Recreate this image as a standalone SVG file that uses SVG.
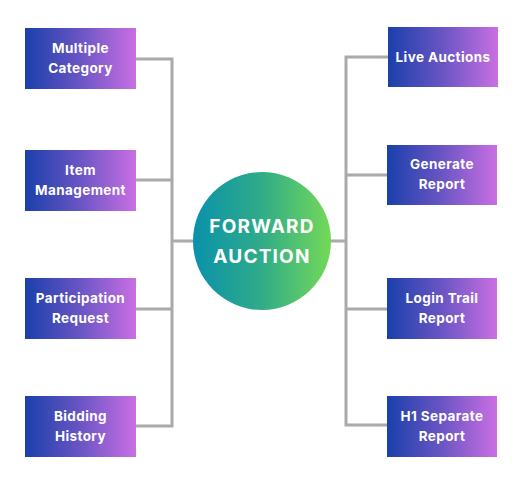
<svg xmlns="http://www.w3.org/2000/svg" width="521" height="479" viewBox="0 0 521 479">
<defs>
<linearGradient id="gBox" x1="0" y1="0" x2="1" y2="0">
<stop offset="0" stop-color="#1a40ab"/>
<stop offset="0.5" stop-color="#6a55c4"/>
<stop offset="1" stop-color="#c96fe3"/>
</linearGradient>
<linearGradient id="gCirc" x1="0" y1="0" x2="1" y2="0">
<stop offset="0" stop-color="#0a91ab"/>
<stop offset="0.5" stop-color="#30ac88"/>
<stop offset="1" stop-color="#74d957"/>
</linearGradient>
</defs>
<style>
.box{fill:url(#gBox);}
.t{font-family:Inter,"Liberation Sans",sans-serif;font-weight:700;font-size:13.5px;fill:#fff;text-anchor:middle;letter-spacing:0.4px;}
.c{font-family:Inter,"Liberation Sans",sans-serif;font-weight:700;font-size:19px;fill:#fff;text-anchor:middle;letter-spacing:1.2px;}
.ln{stroke:#aaaaaa;stroke-width:3;fill:none;}
</style>
<rect width="521" height="479" fill="#ffffff"/>
<g id="connectors">
<path class="ln" d="M136 59H172M136 180H172M136 309H172M136 426H172M172 57.5V427.5M172 241H195"/>
<path class="ln" d="M388 57H346M387 175H346M387 309H346M387 425H346M346 55.5V426.5M346 241H329"/>
</g>
<g id="center">
<circle cx="262" cy="241" r="69" fill="url(#gCirc)"/>
<text class="c" x="262" y="233">FORWARD</text>
<text class="c" x="262" y="263">AUCTION</text>
</g>
<g id="n-multiple-category">
<rect class="box" x="25" y="28" width="111" height="61"/>
<text class="t" x="80.5" y="53">Multiple</text>
<text class="t" x="80.5" y="73">Category</text>
</g>
<g id="n-item-management">
<rect class="box" x="25" y="150" width="111" height="61"/>
<text class="t" x="80.5" y="175">Item</text>
<text class="t" x="80.5" y="195">Management</text>
</g>
<g id="n-participation-request">
<rect class="box" x="25" y="278" width="111" height="61"/>
<text class="t" x="80.5" y="303">Participation</text>
<text class="t" x="80.5" y="323">Request</text>
</g>
<g id="n-bidding-history">
<rect class="box" x="25" y="396" width="111" height="61"/>
<text class="t" x="80.5" y="421">Bidding</text>
<text class="t" x="80.5" y="441">History</text>
</g>
<g id="n-live-auctions">
<rect class="box" x="388" y="27" width="110" height="60"/>
<text class="t" x="443" y="61.5">Live Auctions</text>
</g>
<g id="n-generate-report">
<rect class="box" x="387" y="145" width="110" height="60"/>
<text class="t" x="442" y="169">Generate</text>
<text class="t" x="442" y="189">Report</text>
</g>
<g id="n-login-trail-report">
<rect class="box" x="387" y="278" width="110" height="61"/>
<text class="t" x="442" y="303">Login Trail</text>
<text class="t" x="442" y="323">Report</text>
</g>
<g id="n-h1-separate-report">
<rect class="box" x="387" y="396" width="110" height="61"/>
<text class="t" x="442" y="421">H1 Separate</text>
<text class="t" x="442" y="441">Report</text>
</g>
</svg>
